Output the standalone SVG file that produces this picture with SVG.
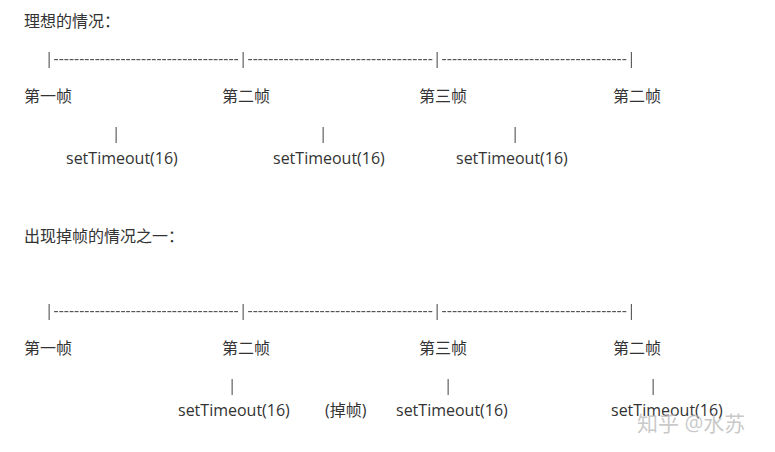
<svg xmlns="http://www.w3.org/2000/svg" width="775" height="452" viewBox="0 0 775 452">
<defs>
<filter id="gray" x="0" y="0" width="1" height="1"><feOffset dx="0" dy="0"/></filter>
</defs>
<style>
text{font-family:"Open Sans","Noto Sans CJK SC",sans-serif;font-size:16px;fill:#333}
.bar{fill:#555;filter:url(#gray)}
.wm{font-size:21px;fill:#bbb;fill-opacity:0.8}
</style>
<rect width="775" height="452" fill="#fff"/>
<g id="ideal">
<text x="24" y="27">理想的情况：</text>
<text class="bar" x="44.7" y="64" textLength="591">|------------------------------------|------------------------------------|------------------------------------|</text>
<text x="24" y="102">第一帧</text>
<text x="222" y="102">第二帧</text>
<text x="419" y="102">第三帧</text>
<text x="613" y="102">第二帧</text>
<text class="bar" x="111.7" y="139">|</text>
<text class="bar" x="318.7" y="139">|</text>
<text class="bar" x="510.7" y="139">|</text>
<text x="66" y="164">setTimeout(16)</text>
<text x="273" y="164">setTimeout(16)</text>
<text x="456" y="164">setTimeout(16)</text>
</g>
<g id="dropped">
<text x="24" y="242">出现掉帧的情况之一：</text>
<text class="bar" x="44.7" y="316" textLength="591">|------------------------------------|------------------------------------|------------------------------------|</text>
<text x="24" y="354">第一帧</text>
<text x="222" y="354">第二帧</text>
<text x="419" y="354">第三帧</text>
<text x="613" y="354">第二帧</text>
<text class="bar" x="227.7" y="391">|</text>
<text class="bar" x="443.7" y="391">|</text>
<text class="bar" x="648.7" y="391">|</text>
<text x="178" y="416">setTimeout(16)</text>
<text x="325" y="416">(掉帧)</text>
<text x="396" y="416">setTimeout(16)</text>
<text x="611" y="416">setTimeout(16)</text>
</g>
<g id="watermark">
<text class="wm" x="637" y="431">知乎 @水苏</text>
</g>
</svg>
